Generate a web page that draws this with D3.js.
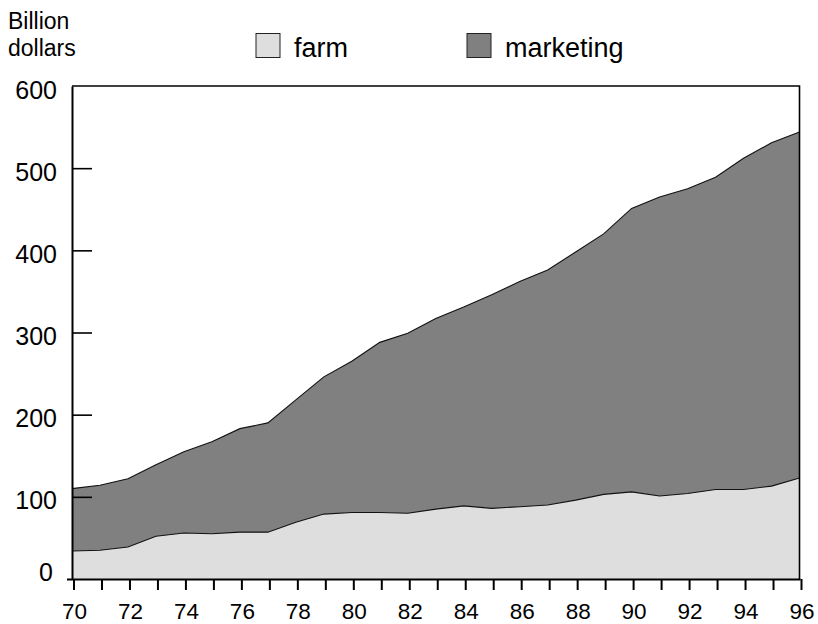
<!DOCTYPE html>
<html>
<head>
<meta charset="utf-8">
<script src="https://cdn.jsdelivr.net/npm/d3@7"></script>
<style>
  body { margin: 0; background: #fff; }
  text { font-family: "Liberation Sans", Arial, sans-serif; fill: #000; }
</style>
</head>
<body>
<svg id="chart"></svg>
<script>
// values, billion dollars
const years = [1970, 1971, 1972, 1973, 1974, 1975, 1976, 1977, 1978, 1979,
               1980, 1981, 1982, 1983, 1984, 1985, 1986, 1987, 1988, 1989,
               1990, 1991, 1992, 1993, 1994, 1995, 1996]
const farm = [34, 35, 39, 52, 56, 55, 57, 57, 69, 79,
              81, 81, 80, 85, 89, 86, 88, 90, 96, 103,
              106, 101, 104, 109, 109, 113, 123]
const marketing = [76, 79, 83, 87, 99, 112, 126, 133, 149, 167,
                   184, 207, 219, 232, 242, 260, 274, 286, 302, 317,
                   345, 364, 371, 380, 403, 418, 421]
const seriesKeys = ['farm', 'marketing']
const seriesColors = ['#dedede', '#808080']
const yTicks = [0, 100, 200, 300, 400, 500, 600]

const width = 818
const height = 624
const plotLeft = 72, plotRight = 799.5, plotTop = 86, plotBottom = 579

const rows = years.map((y, i) => ({ year: y, farm: farm[i], marketing: marketing[i] }))

const svg = d3.select('#chart')
    .attr('width', width)
    .attr('height', height)
    .style('display', 'block')

const x = d3.scaleLinear().domain([1970, 1996]).range([plotLeft, plotRight])
const y = d3.scaleLinear().domain([0, 600]).range([plotBottom, plotTop])

const stack = d3.stack().keys(seriesKeys)
const layers = stack(rows)

const area = d3.area()
    .x(d => x(d.data.year))
    .y0(d => y(d[0]))
    .y1(d => y(d[1]))

const topLine = d3.line()
    .x(d => x(d.data.year))
    .y(d => y(d[1]))

svg.selectAll('path.layer')
    .data(layers)
    .enter()
    .append('path')
    .attr('class', 'layer')
    .attr('d', area)
    .attr('fill', (d, i) => seriesColors[i])

svg.selectAll('path.edge')
    .data(layers)
    .enter()
    .append('path')
    .attr('class', 'edge')
    .attr('d', topLine)
    .attr('fill', 'none')
    .attr('stroke', '#111')
    .attr('stroke-width', 1.1)

// frame: top and right
svg.append('path')
    .attr('d', `M${plotLeft},${plotTop}H${plotRight}V${plotBottom}`)
    .attr('fill', 'none')
    .attr('stroke', '#000')
    .attr('stroke-width', 1.6)

// y axis, ticks point inward
const yAxis = svg.append('g')
    .attr('transform', `translate(${plotLeft},0)`)
    .call(d3.axisLeft(y)
        .tickValues(yTicks)
        .tickSizeInner(-20)
        .tickSizeOuter(0)
        .tickPadding(15))
yAxis.select('.domain').attr('stroke-width', 2)
yAxis.selectAll('.tick line').attr('stroke-width', 1.6)
yAxis.selectAll('.tick text')
    .attr('font-size', 25)
    .attr('font-family', '"Liberation Sans", Arial, sans-serif')
    .attr('dy', d => d === 0 ? '0.04em' : '0.48em')
    .attr('x', d => d === 0 ? -19 : -15)
yAxis.selectAll('.tick').filter(d => d === 0 || d === 600).select('line').remove()

// x axis, a tick every year below the axis, a label every second year
const xAxis = svg.append('g')
    .attr('transform', `translate(0,${plotBottom})`)
    .call(d3.axisBottom(x)
        .tickValues(years)
        .tickSizeInner(11)
        .tickSizeOuter(0)
        .tickPadding(13)
        .tickFormat(d => d % 2 === 0 ? String(d).slice(2) : ''))
xAxis.select('.domain')
    .attr('d', `M${plotLeft - 5},0.5H${plotRight + 1}`)
    .attr('stroke-width', 2)
xAxis.selectAll('.tick line')
    .attr('x1', 1.5)
    .attr('x2', 1.5)
    .attr('stroke', '#000')
    .attr('stroke-width', 2)
xAxis.selectAll('.tick text')
    .attr('x', 2)
    .attr('font-size', 22.5)
    .attr('font-family', '"Liberation Sans", Arial, sans-serif')

// unit label
svg.append('text')
    .attr('x', 8).attr('y', 28.5)
    .attr('font-size', 23)
    .text('Billion')
svg.append('text')
    .attr('x', 8).attr('y', 55.5)
    .attr('font-size', 23)
    .text('dollars')

// legend
const legendX = [256, 467]
const legend = svg.selectAll('g.legend')
    .data(seriesKeys)
    .enter()
    .append('g')
    .attr('class', 'legend')
    .attr('transform', (d, i) => `translate(${legendX[i]},33.5)`)
legend.append('rect')
    .attr('width', 24).attr('height', 24)
    .attr('fill', (d, i) => seriesColors[i])
    .attr('stroke', '#222')
    .attr('stroke-width', 1)
legend.append('text')
    .attr('x', 38).attr('y', 23)
    .attr('font-size', 27)
    .text(d => d)
</script>
</body>
</html>
